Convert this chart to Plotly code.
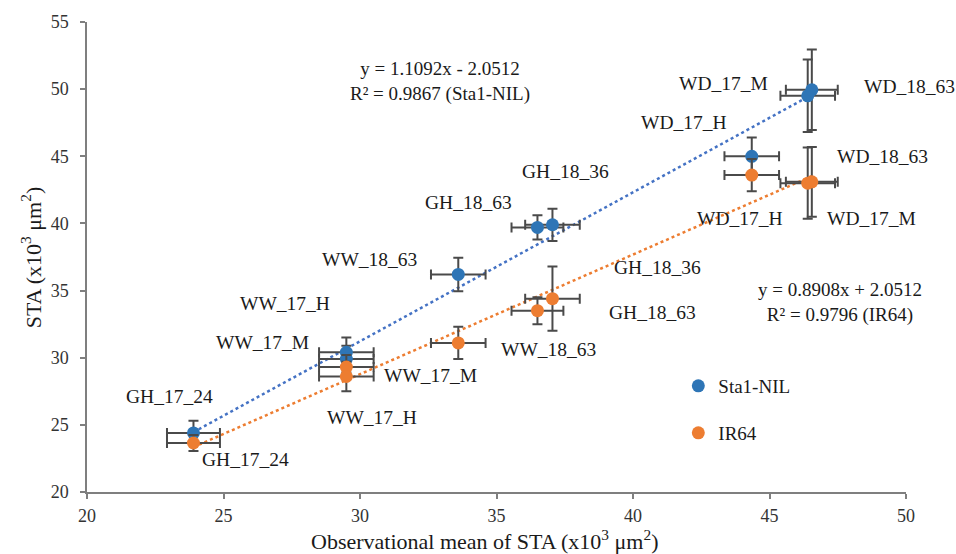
import plotly.graph_objects as go

# ---- data ----
envs = ["GH_17_24", "WW_17_M", "WW_17_H", "WW_18_63", "GH_18_63",
        "GH_18_36", "WD_17_H", "WD_17_M", "WD_18_63"]
obs_mean = [23.9, 29.5, 29.5, 33.6, 36.5, 37.05, 44.35, 46.4, 46.55]
obs_err = [0.97, 1.0, 1.0, 1.0, 0.95, 1.0, 1.0, 1.0, 0.95]
sta1_nil = [24.4, 30.4, 29.9, 36.2, 39.7, 39.9, 45.0, 49.5, 49.95]
sta1_err = [0.9, 1.1, 1.0, 1.25, 0.9, 1.2, 1.4, 2.7, 3.0]
ir64 = [23.65, 29.3, 28.6, 31.1, 33.5, 34.4, 43.6, 43.0, 43.1]
ir64_err = [0.6, 0.9, 1.1, 1.2, 1.0, 2.4, 1.2, 2.65, 2.6]

sta1_slope, sta1_icpt = 1.1092, -2.0512
ir64_slope, ir64_icpt = 0.8908, 2.0512
sta1_eq = "y = 1.1092x - 2.0512<br>R² = 0.9867 (Sta1-NIL)"
ir64_eq = "y = 0.8908x + 2.0512<br>R² = 0.9796 (IR64)"
x_title = "Observational mean of STA (x10<sup>3</sup> μm<sup>2</sup>)"
y_title = "STA (x10<sup>3</sup> μm<sup>2</sup>)"

x_ticks = [20, 25, 30, 35, 40, 45, 50]
y_ticks = [20, 25, 30, 35, 40, 45, 50, 55]

# label pixel offsets (style)
sta1_off = [(-24, 36), (-84, 10), (-61, 56), (-89, 15), (-69, 25),
            (13, 53), (-68, 34), (-84, 12), (98, 3)]
ir64_off = [(52, -17), (84, -8), (26, -41), (90, -7), (115, -2),
            (105, 31), (-12, -43), (64, -35), (71, 25)]

BLUE = "#2E75B6"
ORANGE = "#ED7D31"
ERR = "#4a4a4a"
FONT = "Liberation Serif"
TXT = "#1a1a1a"

fig = go.Figure()

xmin, xmax = min(obs_mean), max(obs_mean)
fig.add_trace(go.Scatter(
    x=[xmin, xmax], y=[sta1_slope * xmin + sta1_icpt, sta1_slope * xmax + sta1_icpt],
    mode="lines", line=dict(color="#4472C4", width=2.5, dash="dot"),
    showlegend=False, hoverinfo="skip"))
fig.add_trace(go.Scatter(
    x=[xmin, xmax], y=[ir64_slope * xmin + ir64_icpt, ir64_slope * xmax + ir64_icpt],
    mode="lines", line=dict(color=ORANGE, width=2.5, dash="dot"),
    showlegend=False, hoverinfo="skip"))

err_style = dict(color=ERR, thickness=2, width=5)
fig.add_trace(go.Scatter(
    x=obs_mean, y=sta1_nil, mode="markers", name="Sta1-NIL",
    marker=dict(color=BLUE, size=13),
    error_x=dict(type="data", array=obs_err, **err_style),
    error_y=dict(type="data", array=sta1_err, **err_style),
    legend="legend"))
fig.add_trace(go.Scatter(
    x=obs_mean, y=ir64, mode="markers", name="IR64",
    marker=dict(color=ORANGE, size=13),
    error_x=dict(type="data", array=obs_err, **err_style),
    error_y=dict(type="data", array=ir64_err, **err_style),
    legend="legend2"))

lab_font = dict(family=FONT, size=19.5, color=TXT)
annots = []
for i, e in enumerate(envs):
    annots.append(dict(x=obs_mean[i], y=sta1_nil[i], text=e, showarrow=False,
                       xshift=sta1_off[i][0], yshift=sta1_off[i][1], font=lab_font))
    annots.append(dict(x=obs_mean[i], y=ir64[i], text=e, showarrow=False,
                       xshift=ir64_off[i][0], yshift=ir64_off[i][1], font=lab_font))
eq_font = dict(family=FONT, size=19, color=TXT)
annots.append(dict(x=0.431, y=0.874, xref="paper", yref="paper", text=sta1_eq,
                   showarrow=False, align="center", xanchor="center",
                   yanchor="middle", font=eq_font))
annots.append(dict(x=0.919, y=0.404, xref="paper", yref="paper", text=ir64_eq,
                   showarrow=False, align="center", xanchor="center",
                   yanchor="middle", font=eq_font))
title_font = dict(family=FONT, size=22, color=TXT)
annots.append(dict(x=0.485, y=-0.102, xref="paper", yref="paper", text=x_title,
                   showarrow=False, xanchor="center", yanchor="middle",
                   font=title_font))
annots.append(dict(x=-0.068, y=0.5, xref="paper", yref="paper", text=y_title,
                   showarrow=False, xanchor="center", yanchor="middle",
                   textangle=-90, font=title_font))

axis_common = dict(showgrid=False, zeroline=False, showline=True,
                   linecolor="#7f7f7f", linewidth=1.5, ticks="outside",
                   tickcolor="#7f7f7f", ticklen=5, tickwidth=1.5,
                   tickfont=dict(family=FONT, size=18, color="#333333"))

fig.update_layout(
    width=956, height=554,
    paper_bgcolor="white", plot_bgcolor="white",
    margin=dict(l=87, r=50, t=22, b=62),
    xaxis=dict(range=[20, 50], tickvals=x_ticks, ticklabelstandoff=2, **axis_common),
    yaxis=dict(range=[20, 55], tickvals=y_ticks, ticklabelstandoff=8, **axis_common),
    annotations=annots,
    legend=dict(x=0.722, y=0.2255, xanchor="left", yanchor="middle",
                bgcolor="rgba(0,0,0,0)", itemwidth=30,
                font=dict(family=FONT, size=19, color=TXT)),
    legend2=dict(x=0.722, y=0.1255, xanchor="left", yanchor="middle",
                 bgcolor="rgba(0,0,0,0)", itemwidth=30,
                 font=dict(family=FONT, size=19, color=TXT)),
)

fig.write_html("out.html", config={"displayModeBar": False},
               post_script="document.body.style.margin='0px';document.body.style.overflow='hidden';")
